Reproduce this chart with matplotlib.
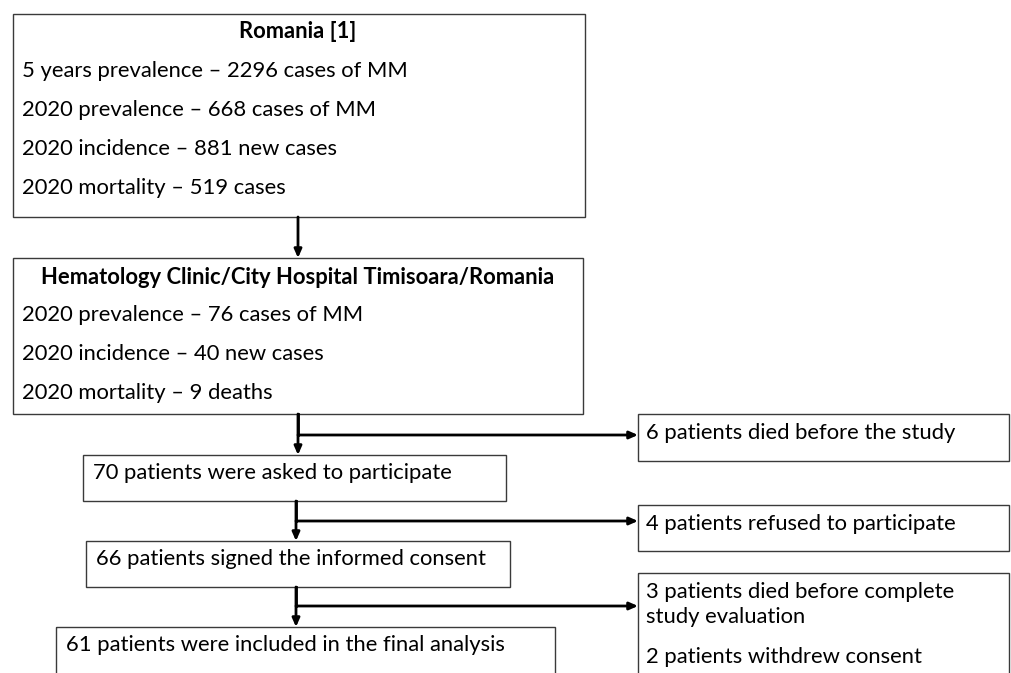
import matplotlib
matplotlib.use("Agg")
import matplotlib.pyplot as plt
from matplotlib.patches import Rectangle

plt.rcParams["font.family"] = ["Lato", "DejaVu Sans"]

# chart content
romania_title = "Romania [1]"
romania_lines = ["5 years prevalence \u2013 2296 cases of MM",
                 "2020 prevalence \u2013 668 cases of MM",
                 "2020 incidence \u2013 881 new cases",
                 "2020 mortality \u2013 519 cases"]
clinic_title = "Hematology Clinic/City Hospital Timisoara/Romania"
clinic_lines = ["2020 prevalence \u2013 76 cases of MM",
                "2020 incidence \u2013 40 new cases",
                "2020 mortality \u2013 9 deaths"]
main_steps = ["70 patients were asked to participate",
              "66 patients signed the informed consent",
              "61 patients were included in the final analysis"]
# each exclusion box holds paragraphs, each paragraph a list of lines
excluded = [[["6 patients died before the study"]],
            [["4 patients refused to participate"]],
            [["3 patients died before complete", "study evaluation"],
             ["2 patients withdrew consent"]]]

# layout in pixel coordinates (y down)
W, H = 1012, 673
fig = plt.figure(figsize=(W / 100, H / 100), dpi=100)
ax = fig.add_axes([0, 0, 1, 1])
ax.set_xlim(0, W)
ax.set_ylim(H, 0)
ax.axis("off")

FS = 15.8
EDGE = "#3a3a3a"


def box(x0, y0, x1, y1):
    ax.add_patch(Rectangle((x0, y0), x1 - x0, y1 - y0, fill=False,
                           edgecolor=EDGE, lw=1.0))


def arrow(x0, y0, x1, y1):
    ax.annotate("", xy=(x1, y1), xytext=(x0, y0),
                arrowprops=dict(arrowstyle="-|>,head_length=0.5,head_width=0.22",
                                color="black", lw=2.0, shrinkA=0, shrinkB=0))


# top box
box(13, 14, 585, 217)
ax.text(298, 32, romania_title, ha="center", va="center", fontsize=FS,
        fontweight="bold")
for i, line in enumerate(romania_lines):
    ax.text(22, 71 + i * 39, line, ha="left", va="center", fontsize=FS)

arrow(298, 217, 298, 258)

# clinic box
box(13, 258, 583, 414)
ax.text(298, 277, clinic_title, ha="center", va="center", fontsize=FS,
        fontweight="bold")
for i, line in enumerate(clinic_lines):
    ax.text(22, 315 + i * 39, line, ha="left", va="center", fontsize=FS)

# main chain and exclusions
main_boxes = [(83, 455, 506, 501), (86, 541, 510, 587), (56, 627, 555, 690)]
side_boxes = [(638, 414, 1009, 461), (638, 505, 1009, 551), (638, 573, 1009, 690)]
stem_x = [298, 296, 296]
stem_top = [414, 501, 587]
branch_y = [435, 521, 606]

for k in range(3):
    bx = main_boxes[k]
    box(*bx)
    ax.text(bx[0] + 10, bx[1] + 18, main_steps[k], ha="left", va="center",
            fontsize=FS)
    sx = side_boxes[k]
    box(*sx)
    y = sx[1] + 19
    for para in excluded[k]:
        for line in para:
            ax.text(sx[0] + 8, y, line, ha="left", va="center", fontsize=FS)
            y += 25
        y += 15
    arrow(stem_x[k], stem_top[k], stem_x[k], bx[1])
    ax.plot([stem_x[k], stem_x[k]], [stem_top[k], branch_y[k]], color="black", lw=2.0)
    arrow(stem_x[k], branch_y[k], sx[0], branch_y[k])

fig.savefig("out.png", dpi=100, facecolor="white")
